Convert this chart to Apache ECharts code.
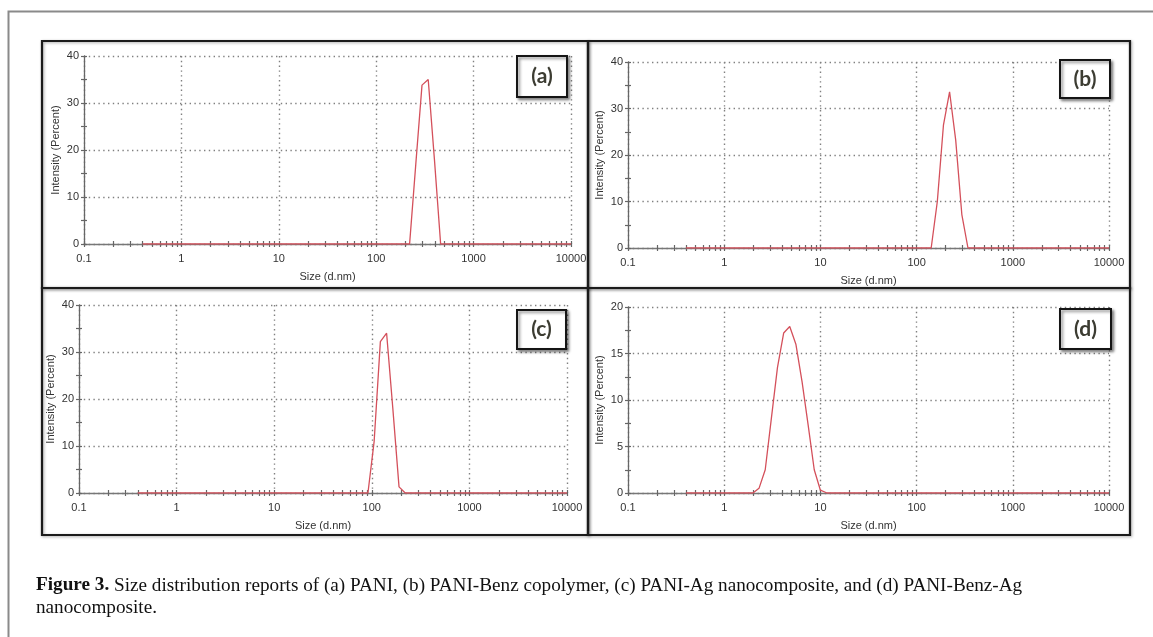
<!DOCTYPE html>
<html>
<head>
<meta charset="utf-8">
<script src="https://cdn.jsdelivr.net/npm/echarts@6/dist/echarts.min.js"></script>
<style>
html, body { margin: 0; padding: 0; background: #fff; }
#chart { width: 1153px; height: 637px; }
</style>
</head>
<body>
<div id="chart"></div>
<script>
// size distribution, Size (d.nm) vs Intensity (Percent)
const sizeA = [0.4, 220.2, 255, 295.3, 342, 396.1, 458.7, 10000]
const intensityA = [0, 0, 17, 33.8, 35, 18, 0, 0]

const sizeB = [0.4, 141.8, 164.2, 190.1, 220.2, 255, 295.3, 342, 10000]
const intensityB = [0, 0, 10, 26.4, 33.6, 23.2, 7.2, 0, 0]

const sizeC = [0.4, 91.3, 105.7, 122.4, 141.8, 164.2, 190.1, 220.2, 10000]
const intensityC = [0, 0, 11, 32.2, 34, 18, 1.3, 0, 0]

const sizeD = [0.4, 1.99, 2.3, 2.67, 3.09, 3.58, 4.15, 4.8, 5.56, 6.44, 7.46, 8.63, 10, 11.7, 10000]
const intensityD = [0, 0, 0.5, 2.5, 8, 13.5, 17.2, 17.9, 16, 12, 7.3, 2.5, 0.3, 0, 0]

// tick marks on the log axis (0.1 .. 10000)
const xTicks = [
    0.1, 0.2, 0.3, 0.4, 0.5, 0.6, 0.7, 0.8, 0.9,
    1, 2, 3, 4, 5, 6, 7, 8, 9,
    10, 20, 30, 40, 50, 60, 70, 80, 90,
    100, 200, 300, 400, 500, 600, 700, 800, 900,
    1000, 2000, 3000, 4000, 5000, 6000, 7000, 8000, 9000,
    10000
]
const yMax = [40, 40, 40, 20]
const yStep = [10, 10, 10, 5]
const tags = ['(a)', '(b)', '(c)', '(d)']
const caption1 = 'Size distribution reports of (a) PANI, (b) PANI-Benz copolymer, (c) PANI-Ag nanocomposite, and (d) PANI-Benz-Ag'
const caption2 = 'nanocomposite.'

const series = [[sizeA, intensityA], [sizeB, intensityB], [sizeC, intensityC], [sizeD, intensityD]]

// layout of the four panels
const grids = [
    { left: 84, top: 56, width: 487, height: 188 },
    { left: 628, top: 62, width: 481, height: 186 },
    { left: 79, top: 305, width: 488, height: 188 },
    { left: 628, top: 307, width: 481, height: 186 },
]
const frames = [
    { x: 42, y: 41, width: 546, height: 247 },
    { x: 588, y: 41, width: 542, height: 247 },
    { x: 42, y: 288, width: 546, height: 247 },
    { x: 588, y: 288, width: 542, height: 247 },
]
const tagBoxes = [
    { x: 517, y: 56, width: 50, height: 41 },
    { x: 1060, y: 60, width: 50, height: 38 },
    { x: 517, y: 310, width: 49, height: 39 },
    { x: 1060, y: 309, width: 51, height: 40 },
]

const FONT = 'Liberation Sans, Arial, sans-serif'
const tickStyle = { color: '#666', width: 1.2 }
const dotted = { color: '#808080', width: 1.4, type: [1.4, 3.4] }

const xAxis = []
const yAxis = []
const chartSeries = []

grids.forEach((g, i) => {
    const xBase = { type: 'log', logBase: 10, min: 0.1, max: 10000, gridIndex: i, position: 'bottom' }
    // main axis: line, decade labels, dotted grid
    xAxis.push(Object.assign({}, xBase, {
        name: 'Size (d.nm)',
        nameLocation: 'middle',
        nameGap: 27,
        nameTextStyle: { fontFamily: FONT, fontSize: 11, color: '#333' },
        axisLine: { onZero: false, lineStyle: { color: '#777', width: 1.3 } },
        axisTick: { show: false },
        axisLabel: {
            margin: 9, fontFamily: FONT, fontSize: 11, color: '#333',
            formatter: v => String(+Number(v).toPrecision(6))
        },
        splitLine: { show: true, lineStyle: dotted },
    }))
    // two copies that only carry the log ticks, outside and inside
    ;[false, true].forEach(inside => {
        xAxis.push(Object.assign({}, xBase, {
            axisLine: { show: false },
            axisLabel: { show: false },
            splitLine: { show: false },
            axisTick: { show: true, inside: inside, length: 3, customValues: xTicks, lineStyle: tickStyle },
        }))
    })

    const yBase = { type: 'value', min: 0, max: yMax[i], interval: yStep[i], gridIndex: i, position: 'left' }
    yAxis.push(Object.assign({}, yBase, {
        name: 'Intensity (Percent)',
        nameLocation: 'middle',
        nameGap: 23,
        nameTextStyle: { fontFamily: FONT, fontSize: 11, color: '#333' },
        axisLine: { show: true, onZero: false, lineStyle: { color: '#666', width: 1.3 } },
        axisTick: { show: true, length: 3, lineStyle: tickStyle },
        minorTick: { show: true, splitNumber: 2, length: 3, lineStyle: tickStyle },
        axisLabel: { margin: 5, fontFamily: FONT, fontSize: 11, color: '#333' },
        splitLine: { show: true, lineStyle: dotted },
    }))
    yAxis.push(Object.assign({}, yBase, {
        axisLine: { show: false },
        axisLabel: { show: false },
        splitLine: { show: false },
        axisTick: { show: true, inside: true, length: 3, lineStyle: tickStyle },
        minorTick: { show: true, splitNumber: 2, length: 3, lineStyle: tickStyle },
    }))

    const [sizes, values] = series[i]
    chartSeries.push({
        type: 'line',
        xAxisIndex: i * 3,
        yAxisIndex: i * 2,
        data: sizes.map((s, k) => [s, values[k]]),
        showSymbol: false,
        silent: true,
        z: 5,
        lineStyle: { color: '#d4505b', width: 1.3 },
    })
})

const graphic = []
// outer figure frame (left and top edges)
graphic.push({
    type: 'polyline',
    shape: { points: [[8.5, 637], [8.5, 11.5], [1153, 11.5]] },
    style: { stroke: '#8a8a8a', lineWidth: 2, fill: null },
    z: 1,
})
frames.forEach(f => {
    graphic.push({
        type: 'rect',
        shape: f,
        style: {
            fill: null, stroke: '#1b1b1b', lineWidth: 2.2,
            shadowBlur: 3, shadowColor: 'rgba(0,0,0,0.35)', shadowOffsetX: 1, shadowOffsetY: 1
        },
        z: 10,
    })
})
tagBoxes.forEach((b, i) => {
    graphic.push({
        type: 'rect',
        shape: b,
        style: {
            fill: '#fff', stroke: '#151515', lineWidth: 2,
            shadowBlur: 3, shadowColor: 'rgba(0,0,0,0.45)', shadowOffsetX: 2, shadowOffsetY: 2
        },
        z: 20,
    })
    graphic.push({
        type: 'text',
        x: b.x + b.width / 2,
        y: b.y + b.height / 2,
        style: {
            text: tags[i], align: 'center', verticalAlign: 'middle',
            font: 'bold 21px Lato, "Open Sans", sans-serif', fill: '#3c3c32'
        },
        z: 21,
    })
})
graphic.push({
    type: 'text',
    x: 36,
    y: 595,
    style: {
        text: '{b|Figure 3.} ' + caption1,
        verticalAlign: 'bottom',
        font: '19.2px "Liberation Serif", "DejaVu Serif", serif',
        fill: '#111',
        rich: { b: { fontWeight: 'bold', fontSize: 19.2, fontFamily: '"Liberation Serif", serif', fill: '#111' } }
    },
    z: 20,
})
graphic.push({
    type: 'text',
    x: 36,
    y: 617,
    style: {
        text: caption2,
        verticalAlign: 'bottom',
        font: '19.2px "Liberation Serif", "DejaVu Serif", serif',
        fill: '#111'
    },
    z: 20,
})

const chart = echarts.init(document.getElementById('chart'), null, { renderer: 'canvas' })
chart.setOption({
    animation: false,
    backgroundColor: '#fff',
    grid: grids,
    xAxis: xAxis,
    yAxis: yAxis,
    series: chartSeries,
    graphic: graphic,
})
</script>
</body>
</html>
